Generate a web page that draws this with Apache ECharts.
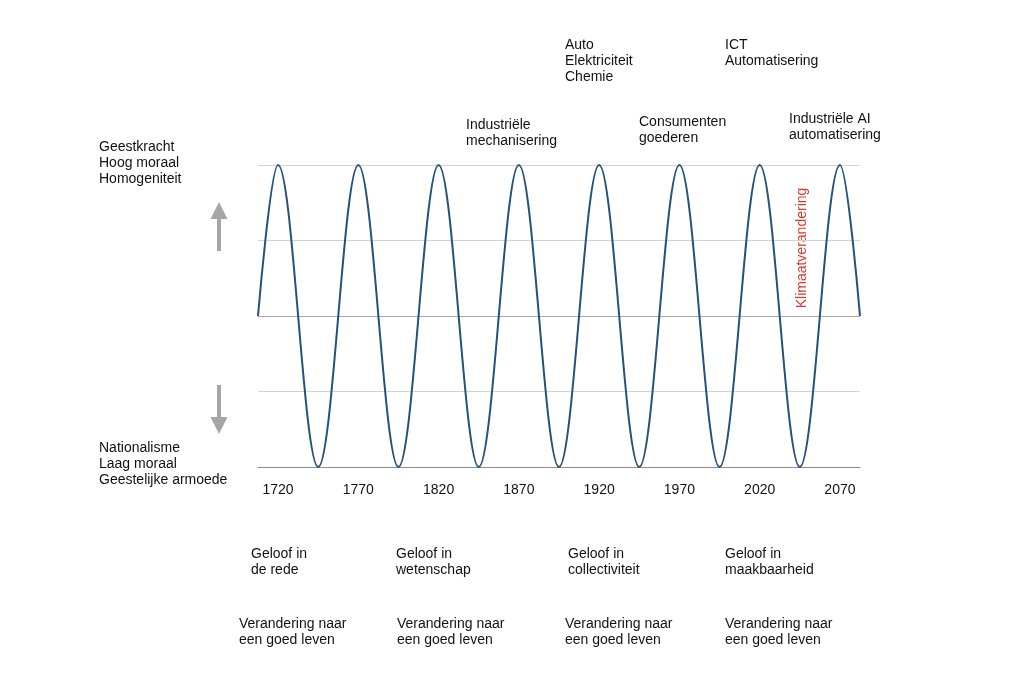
<!DOCTYPE html>
<html>
<head>
<meta charset="utf-8">
<script src="https://cdn.jsdelivr.net/npm/echarts@6/dist/echarts.min.js"></script>
<style>
  html, body { margin: 0; padding: 0; background: #fff; }
  #chart { width: 1024px; height: 685px; }
</style>
</head>
<body>
<div id="chart"></div>
<script>
// golf: begin op nul, dan toppen en dalen om de 25 jaar, eind op nul
var waveYears = [
  1707.5, 1720, 1745, 1770, 1795, 1820, 1845, 1870, 1895,
  1920, 1945, 1970, 1995, 2020, 2045, 2070, 2082.5
];
var waveValues = [
  0, 1, -1, 1, -1, 1, -1, 1, -1,
  1, -1, 1, -1, 1, -1, 1, 0
];
var yearLabels = [1720, 1770, 1820, 1870, 1920, 1970, 2020, 2070];

var topNotes = [
  { x: 466, y: 117, text: "Industriële\nmechanisering" },
  { x: 565, y: 37, text: "Auto\nElektriciteit\nChemie" },
  { x: 639, y: 114, text: "Consumenten\ngoederen" },
  { x: 725, y: 37, text: "ICT\nAutomatisering" },
  { x: 789, y: 111, text: "Industriële AI\nautomatisering" }
];
var bottomNotes = [
  { x: 251, y: 546, text: "Geloof in\nde rede" },
  { x: 396, y: 546, text: "Geloof in\nwetenschap" },
  { x: 568, y: 546, text: "Geloof in\ncollectiviteit" },
  { x: 725, y: 546, text: "Geloof in\nmaakbaarheid" },
  { x: 239, y: 616, text: "Verandering naar\neen goed leven" },
  { x: 397, y: 616, text: "Verandering naar\neen goed leven" },
  { x: 565, y: 616, text: "Verandering naar\neen goed leven" },
  { x: 725, y: 616, text: "Verandering naar\neen goed leven" }
];
var sideNotes = [
  { x: 99, y: 139, text: "Geestkracht\nHoog moraal\nHomogeniteit" },
  { x: 99, y: 440, text: "Nationalisme\nLaag moraal\nGeestelijke armoede" }
];

(function () {
  var font = "Liberation Sans, Arial, sans-serif";
  var graphics = [];
  topNotes.concat(bottomNotes, sideNotes).forEach(function (n) {
    graphics.push({
      type: "text",
      left: n.x,
      top: n.y,
      style: {
        text: n.text,
        fill: "#111",
        font: "14px " + font,
        lineHeight: 16
      }
    });
  });
  // klimaatverandering, verticaal
  graphics.push({
    type: "text",
    x: 802,
    y: 248,
    rotation: Math.PI / 2,
    style: {
      text: "Klimaatverandering",
      fill: "#d63a2f",
      font: "14px " + font,
      align: "center",
      verticalAlign: "middle"
    }
  });
  // pijlen
  graphics.push({
    type: "line",
    shape: { x1: 219, y1: 251, x2: 219, y2: 214 },
    style: { stroke: "#a6a6a6", lineWidth: 4 }
  });
  graphics.push({
    type: "polygon",
    shape: { points: [[219, 202], [210.5, 219], [227.5, 219]] },
    style: { fill: "#a6a6a6" }
  });
  graphics.push({
    type: "line",
    shape: { x1: 219, y1: 385, x2: 219, y2: 422 },
    style: { stroke: "#a6a6a6", lineWidth: 4 }
  });
  graphics.push({
    type: "polygon",
    shape: { points: [[219, 434], [210.5, 417], [227.5, 417]] },
    style: { fill: "#a6a6a6" }
  });

  var data = waveYears.map(function (y, i) {
    return [y, waveValues[i]];
  });

  var option = {
    animation: false,
    grid: { left: 258, right: 164, top: 165, bottom: 218 },
    xAxis: {
      type: "value",
      min: 1707.5,
      max: 2082.5,
      splitLine: { show: false },
      axisTick: { show: false },
      axisLine: { show: true, onZero: false, lineStyle: { color: "#8c8c8c", width: 1 } },
      axisLabel: {
        customValues: yearLabels,
        formatter: function (v) { return String(v); },
        color: "#111",
        fontSize: 14,
        fontFamily: font,
        margin: 16
      }
    },
    yAxis: {
      type: "value",
      min: -1,
      max: 1,
      interval: 0.5,
      axisLabel: { show: false },
      axisLine: { show: false },
      axisTick: { show: false },
      splitLine: {
        lineStyle: {
          color: ["#8c8c8c", "#d4d4d4", "#a8a8a8", "#d4d4d4", "#d4d4d4"],
          width: 1
        }
      }
    },
    series: [
      {
        type: "line",
        data: data,
        smooth: 0.36,
        showSymbol: false,
        lineStyle: { color: "#24527a", width: 2 }
      }
    ],
    graphic: graphics
  };
  var myChart = echarts.init(document.getElementById("chart"));
  myChart.setOption(option);
})();
</script>
</body>
</html>
